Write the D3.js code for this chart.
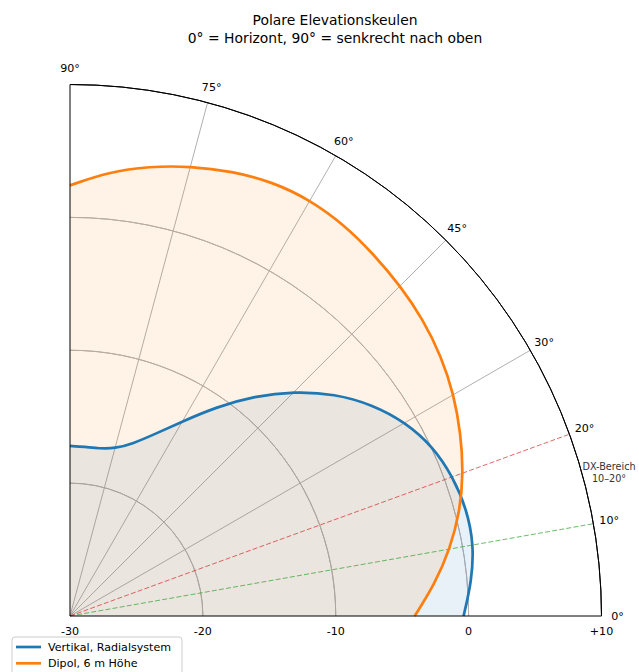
<!DOCTYPE html>
<html><head><meta charset="utf-8">
<script src="https://cdn.jsdelivr.net/npm/d3@7"></script>
<style>body{margin:0;background:#fff}svg{display:block;font-family:"DejaVu Sans",sans-serif}</style>
</head><body><svg id="c" width="639" height="672"></svg>
<script>
// Elevation angles (degrees)
const angles = [0,5,10,15,20,25,30,35,40,45,50,55,60,65,70,75,80,85,90];
// Gain in dB
const vertikal = [-0.38,0.35,0.86,0.92,0.66,0.14,-0.85,-2.25,-4.0,-6.1,-8.4,-10.8,-13.1,-14.9,-16.2,-16.95,-17.2,-17.22,-17.2];
const dipol = [-4.06,-2.45,-0.96,0.38,1.5,2.45,3.36,4.1,4.7,5.15,5.55,5.95,6.15,6.05,5.62,5.05,4.36,3.55,2.41];
const seriesNames = ["Vertikal, Radialsystem","Dipol, 6 m Höhe"];
const seriesColors = ["#1f77b4","#ff7f0e"];
const radialTicks = [-30,-20,-10,0,10];
const radialTickLabels = ["-30","-20","-10","0","+10"];
const gridCircles = [-20,-10,0];
const angleTicks = [0,10,20,30,45,60,75,90];
const angleGrid = [30,45,60,75];
const dxLines = [{a:10,color:"#2ca02c"},{a:20,color:"#d62728"}];

const svg = d3.select("#c");
const cx = 70, cy = 616, R = 531.5;
const r = d3.scaleLinear().domain([-30,10]).range([0,R]);
const rad = d => d*Math.PI/180;
const px = (a,rr) => cx + rr*Math.cos(rad(a));
const py = (a,rr) => cy - rr*Math.sin(rad(a));

const g = svg.append("g");
gridCircles.forEach(v=>{
  g.append("path").attr("transform",`translate(${cx},${cy})`)
   .attr("d", d3.arc()({innerRadius:r(v),outerRadius:r(v),startAngle:0,endAngle:Math.PI/2}))
   .attr("fill","none").attr("stroke","#b0b0b0").attr("stroke-width",1);
});
angleGrid.forEach(a=>{
  g.append("line").attr("x1",cx).attr("y1",cy).attr("x2",px(a,R)).attr("y2",py(a,R))
   .attr("stroke","#b0b0b0").attr("stroke-width",1);
});

const data = [vertikal, dipol];
const area = d3.areaRadial().angle((d,i)=>rad(90-angles[i])).innerRadius(0).outerRadius(d=>r(d)).curve(d3.curveBasis);
const line = d3.lineRadial().angle((d,i)=>rad(90-angles[i])).radius(d=>r(d)).curve(d3.curveBasis);
data.forEach((s,k)=>{
  g.append("path").attr("transform",`translate(${cx},${cy})`).attr("d",area(s))
   .attr("fill",seriesColors[k]).attr("fill-opacity",0.1).attr("stroke","none");
});
dxLines.forEach(l=>{
  g.append("line").attr("x1",cx).attr("y1",cy).attr("x2",px(l.a,R)).attr("y2",py(l.a,R))
   .attr("stroke",l.color).attr("stroke-opacity",0.7).attr("stroke-width",1).attr("stroke-dasharray","5,2.2");
});
data.forEach((s,k)=>{
  g.append("path").attr("transform",`translate(${cx},${cy})`).attr("d",line(s))
   .attr("fill","none").attr("stroke",seriesColors[k]).attr("stroke-width",2.7);
});

// spines
g.append("path").attr("transform",`translate(${cx},${cy})`)
 .attr("d", d3.arc()({innerRadius:R,outerRadius:R,startAngle:0,endAngle:Math.PI/2}))
 .attr("fill","none").attr("stroke","#000").attr("stroke-width",1);
g.append("line").attr("x1",cx).attr("y1",cy).attr("x2",cx+R).attr("y2",cy).attr("stroke","#000").attr("stroke-width",1);
g.append("line").attr("x1",cx).attr("y1",cy).attr("x2",cx).attr("y2",cy-R).attr("stroke","#000").attr("stroke-width",1);

angleTicks.forEach(a=>{
  g.append("text").attr("x",px(a,R+16)).attr("y",py(a,R+16)).attr("text-anchor","middle")
   .attr("dominant-baseline","central").attr("font-size",11.1).attr("fill","#000").text(a+"°");
});
radialTicks.forEach((v,i)=>{
  g.append("text").attr("x",cx+r(v)).attr("y",631).attr("text-anchor","middle")
   .attr("dominant-baseline","central").attr("font-size",11.1).attr("fill","#000").text(radialTickLabels[i]);
});

const dxr = r(12);
g.append("text").attr("x",px(15,dxr)).attr("y",py(15,dxr)-5.5).attr("text-anchor","middle")
 .attr("dominant-baseline","central").attr("font-size",9.7).attr("fill","#333").text("DX-Bereich");
g.append("text").attr("x",px(15,dxr)).attr("y",py(15,dxr)+7).attr("text-anchor","middle")
 .attr("dominant-baseline","central").attr("font-size",9.7).attr("fill","#333").text("10–20°");

svg.append("text").attr("x",335).attr("y",20).attr("text-anchor","middle").attr("dominant-baseline","central")
 .attr("font-size",13.9).text("Polare Elevationskeulen");
svg.append("text").attr("x",335).attr("y",37.5).attr("text-anchor","middle").attr("dominant-baseline","central")
 .attr("font-size",13.9).text("0° = Horizont, 90° = senkrecht nach oben");

const lg = svg.append("g");
lg.append("rect").attr("x",12).attr("y",637).attr("width",170).attr("height",50).attr("rx",3)
  .attr("fill","#fff").attr("fill-opacity",0.8).attr("stroke","#ccc").attr("stroke-width",1);
seriesNames.forEach((n,i)=>{
  const y = 647 + i*16.3;
  lg.append("line").attr("x1",16).attr("x2",41).attr("y1",y).attr("y2",y).attr("stroke",seriesColors[i]).attr("stroke-width",2.7);
  lg.append("text").attr("x",48).attr("y",y).attr("dominant-baseline","central").attr("font-size",11.1).text(n);
});
</script></body></html>
